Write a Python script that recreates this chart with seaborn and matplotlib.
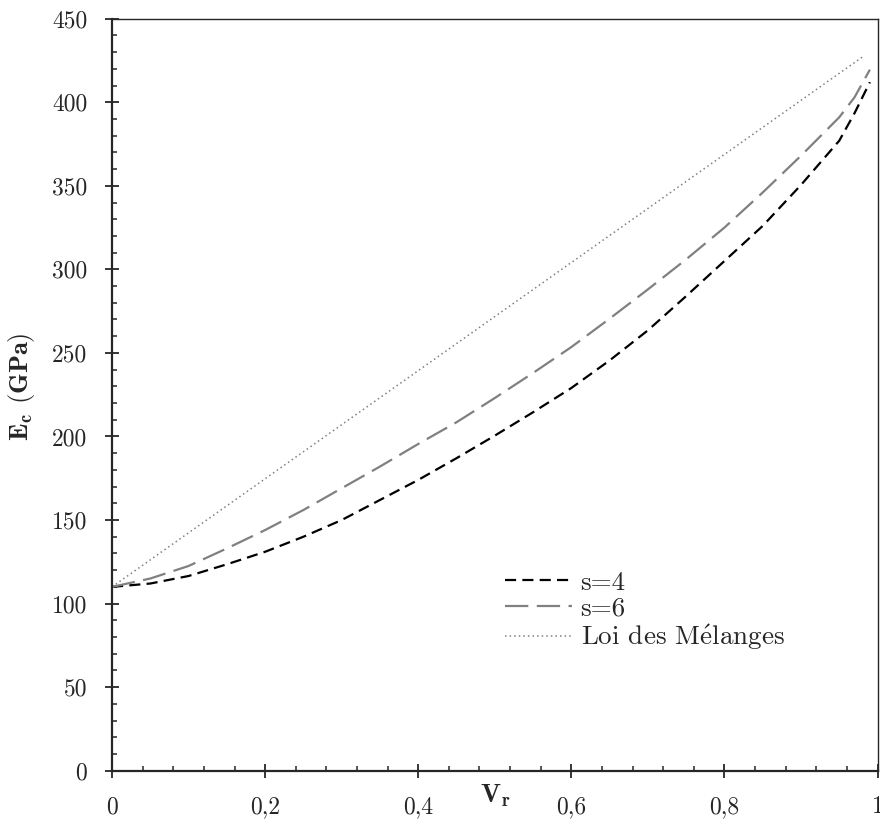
import numpy as np
import pandas as pd
import matplotlib
matplotlib.use("Agg")
import matplotlib.pyplot as plt
import seaborn as sns

# ---- data ----
vr_s4 = [0.0, 0.05, 0.1, 0.15, 0.2, 0.25, 0.3, 0.35, 0.4, 0.45, 0.5, 0.55,
         0.6, 0.65, 0.7, 0.75, 0.8, 0.85, 0.9, 0.95, 0.97, 0.99]
ec_s4 = [110, 112, 116.5, 123.5, 131, 140, 150, 162, 174, 187, 200.5, 214.5,
         229, 245.5, 263.5, 284, 305, 326, 350.5, 377, 393.5, 412]
vr_s6 = [0.0, 0.05, 0.1, 0.15, 0.2, 0.25, 0.3, 0.35, 0.4, 0.45, 0.5, 0.55,
         0.6, 0.65, 0.7, 0.75, 0.8, 0.85, 0.9, 0.95, 0.97, 0.99]
ec_s6 = [110, 115, 122.5, 133, 144, 156, 169, 182, 195.5, 208.5, 223, 238,
         253.5, 270.5, 288, 306, 325, 346, 368, 391, 403, 419.5]
vr_mix = [0.0, 0.98]
ec_mix = [110, 427]

labels = ["s=4", "s=6", r"Loi des M$\acute{\mathrm{e}}$langes"]
xticks = [0, 0.2, 0.4, 0.6, 0.8, 1.0]
xticklabels = ["0", "0,2", "0,4", "0,6", "0,8", "1"]
yticks = [0, 50, 100, 150, 200, 250, 300, 350, 400, 450]
yticklabels = [str(v) for v in yticks]

sns.set_style("ticks")
plt.rcParams["font.family"] = ["cmr10", "DejaVu Serif"]
plt.rcParams["mathtext.fontset"] = "cm"
plt.rcParams["axes.formatter.use_mathtext"] = True
plt.rcParams["axes.unicode_minus"] = False

fig = plt.figure(figsize=(8.8, 8.34), dpi=100)
ax = fig.add_axes([0.1273, 0.0759, 0.8699, 0.9017])

gray = "#808080"
sns.lineplot(x=vr_s4, y=ec_s4, ax=ax, color="black", lw=1.6,
             linestyle=(0, (5.0, 2.8)), label=labels[0])
sns.lineplot(x=vr_s6, y=ec_s6, ax=ax, color=gray, lw=1.6,
             linestyle=(0, (10.5, 3.8)), label=labels[1])
sns.lineplot(x=vr_mix, y=ec_mix, ax=ax, color=gray, lw=1.1,
             linestyle=(0, (1.0, 2.0)), label=labels[2])

ax.set_xlim(0, 1)
ax.set_ylim(0, 450)
ax.set_xticks(xticks)
ax.set_xticklabels(xticklabels)
ax.set_yticks(yticks)
ax.set_yticklabels(yticklabels)
ax.set_xticks(np.arange(0, 1.0001, 0.04), minor=True)
ax.set_yticks(np.arange(0, 450.1, 10), minor=True)

ax.tick_params(axis="both", which="major", direction="inout", length=9.5,
               width=1.3, labelsize=17, top=False, right=False)
ax.tick_params(axis="x", which="major", pad=13.5)
ax.tick_params(axis="y", which="major", pad=13)
ax.tick_params(axis="both", which="minor", direction="in", length=3.8,
               width=1.1, top=False, right=False)

for s in ["left", "bottom"]:
    ax.spines[s].set_linewidth(1.6)
for s in ["top", "right"]:
    ax.spines[s].set_linewidth(1.0)
    ax.spines[s].set_visible(True)

ax.set_xlabel(r"$\mathbf{V}_\mathbf{r}$", fontsize=19)
ax.xaxis.set_label_coords(0.5, -0.016)
ax.xaxis.label.set_va("top")
ax.set_ylabel(r"$\mathbf{E}_\mathbf{c}$ $\mathbf{(GPa)}$", fontsize=19)
ax.yaxis.set_label_coords(-0.118, 0.51)
ax.yaxis.label.set_va("center")

leg = ax.legend(loc="upper left", bbox_to_anchor=(0.513, 0.266), frameon=False,
                fontsize=19.5, handlelength=2.5, handletextpad=0.3,
                labelspacing=0.08, borderpad=0, borderaxespad=0)

fig.savefig("out.png", dpi=100)
